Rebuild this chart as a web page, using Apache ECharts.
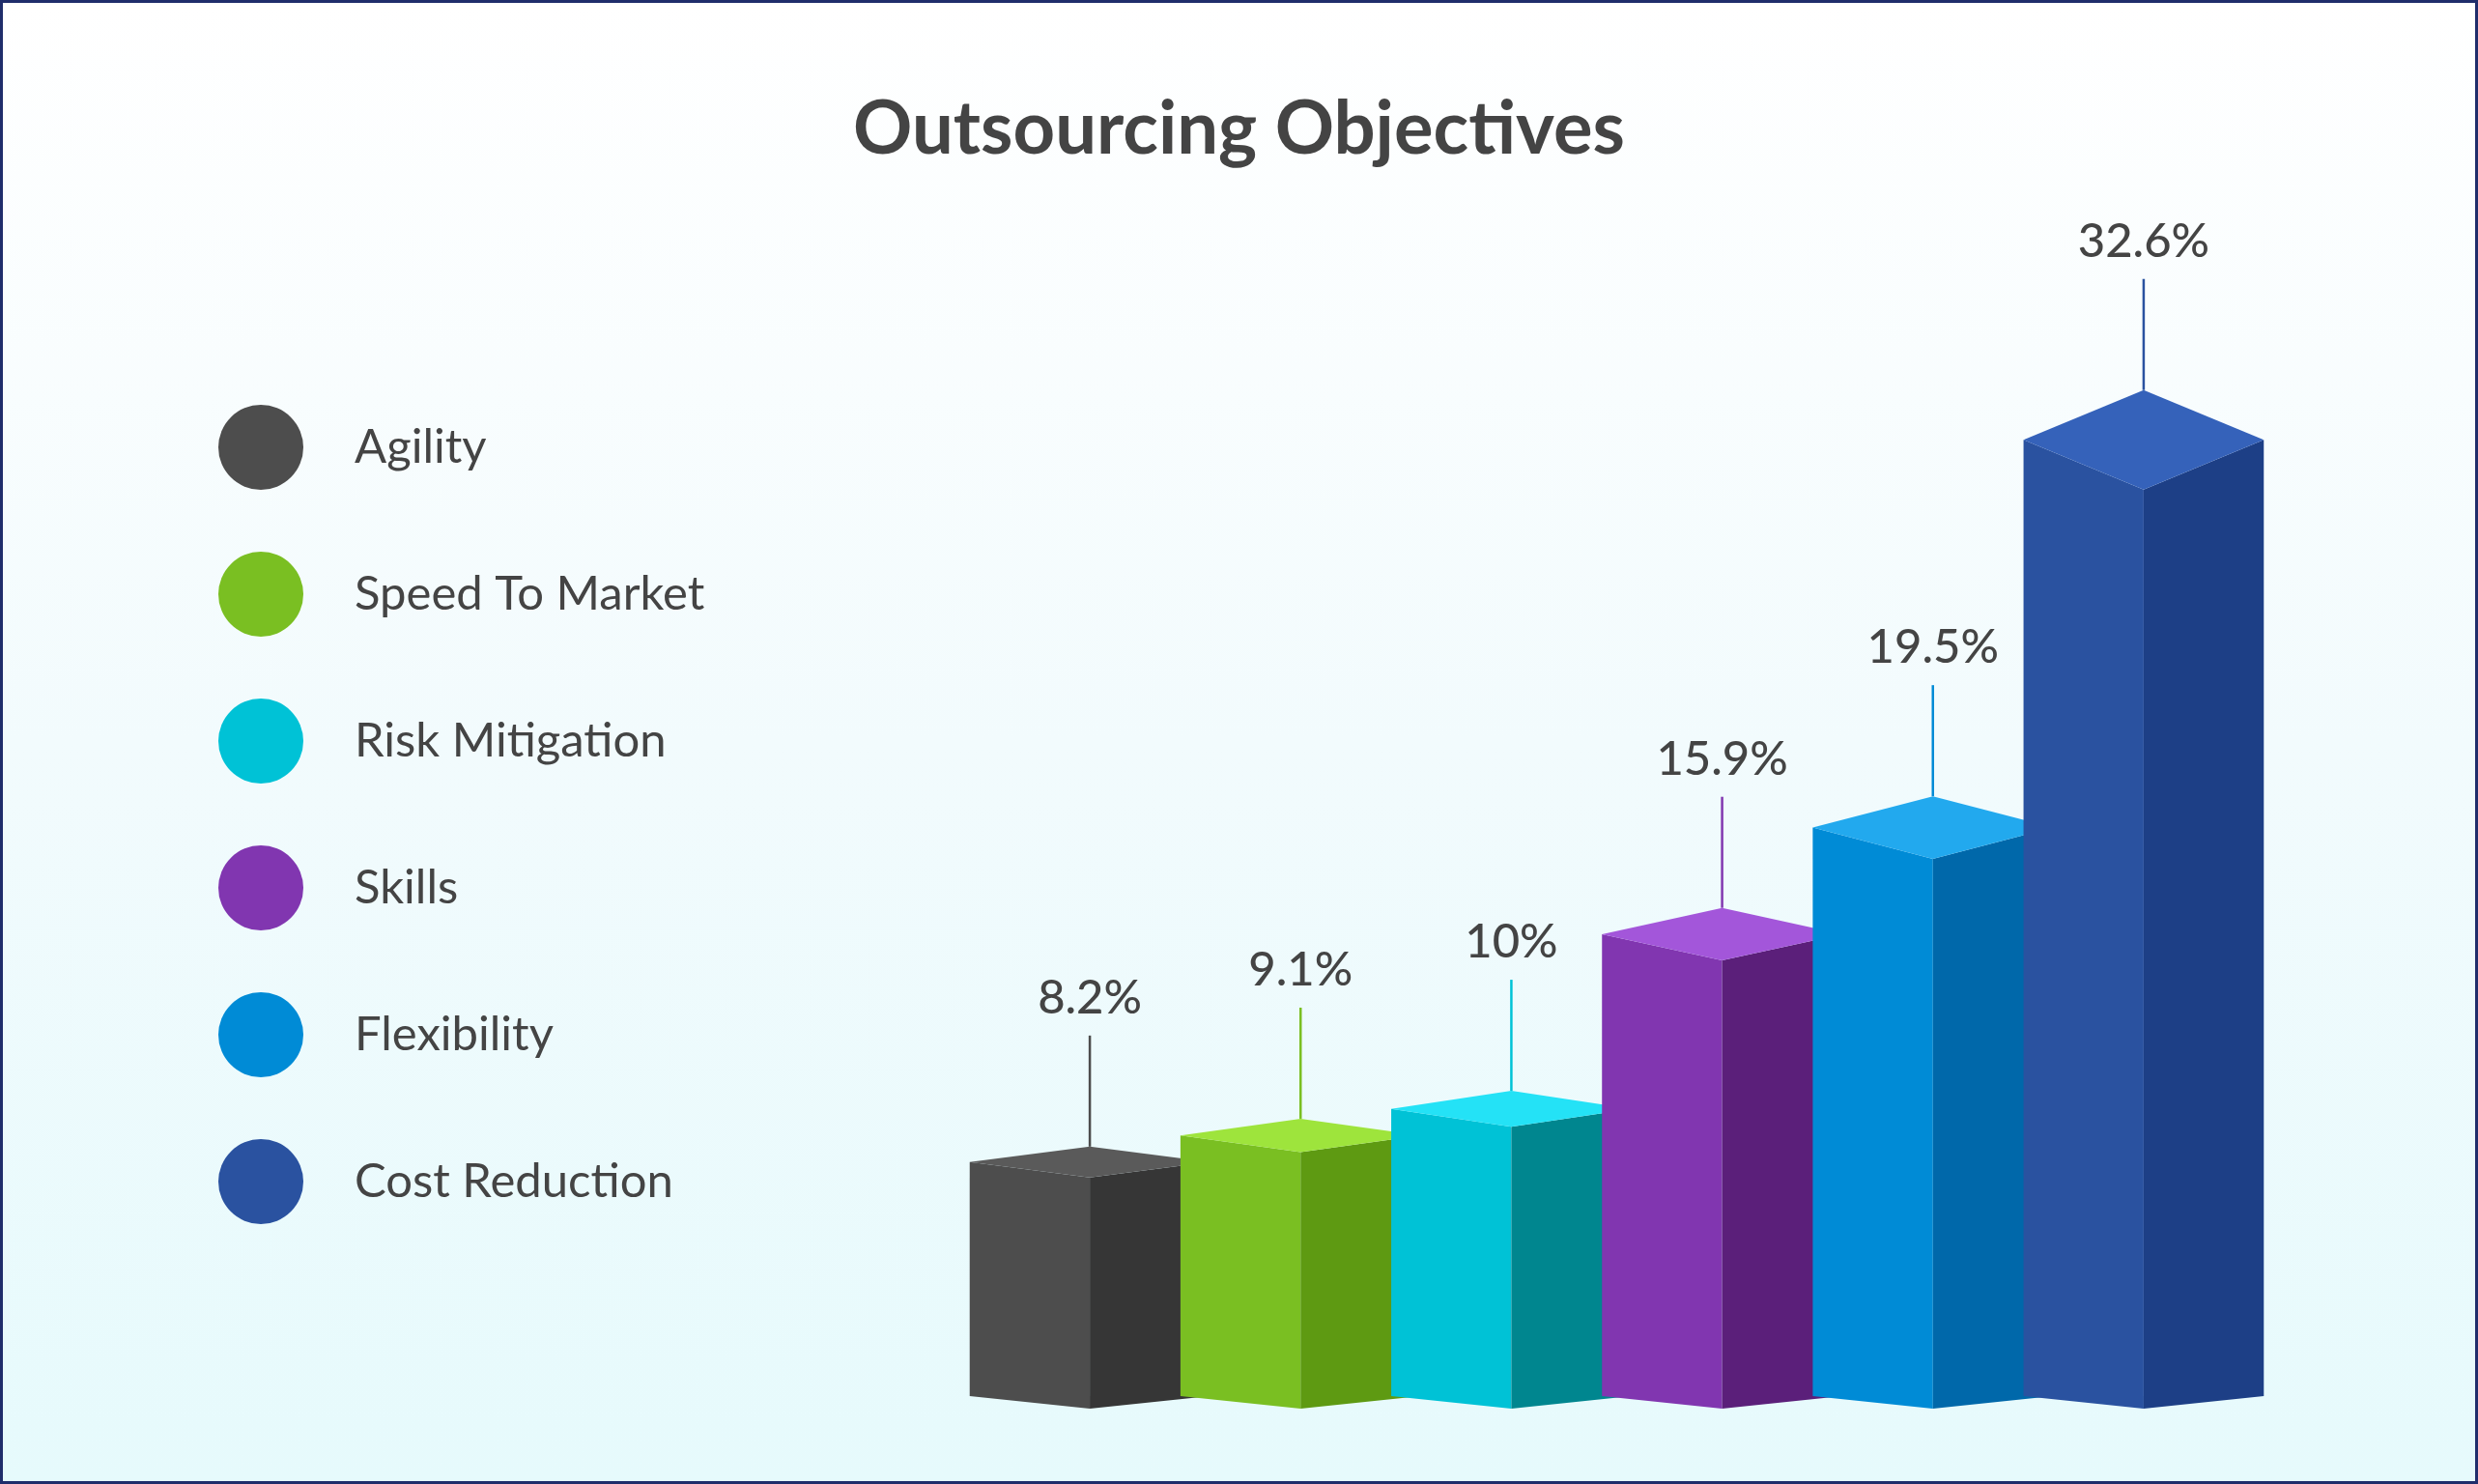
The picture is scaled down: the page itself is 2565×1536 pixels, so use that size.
<!DOCTYPE html>
<html><head><meta charset="utf-8">
<script src="https://cdn.jsdelivr.net/npm/echarts@6/dist/echarts.min.js"></script>
<style>html,body{margin:0;padding:0;}#c{width:2565px;height:1536px;box-sizing:border-box;border:3px solid #1f2d6b;background:linear-gradient(180deg,#ffffff 0%,#f2fbfd 50%,#e6fafc 100%);}</style>
</head><body><div id="c"></div>
<script>
const categories = ['Agility','Speed To Market','Risk Mitigation','Skills','Flexibility','Cost Reduction'];
const values = [8.2, 9.1, 10, 15.9, 19.5, 32.6];
const labels = ['8.2%','9.1%','10%','15.9%','19.5%','32.6%'];
const leftColors = ['#4d4d4d','#7abf22','#00c2d6','#8136b0','#008bd6','#2a52a0'];
const rightColors = ['#363636','#5e9a12','#00868f','#5b1f7a','#0068aa','#1d3f86'];
const topColors = ['#5a5a5a','#9ee43c','#24e2f6','#a356da','#22a9ee','#3562ba'];

const chart = echarts.init(document.getElementById('c'));
const FONT = 'Lato';
const series = categories.map((name, i) => ({
  name, type: 'custom', itemStyle:{color:leftColors[i]},
  data: [[i, values[i]]],
  renderItem(params, api) {
    const idx = api.value(0), v = api.value(1);
    const top = api.coord([idx, v]), base = api.coord([idx, 0]);
    const x = top[0], yT = top[1], yB = base[1];
    const w = api.size([1, 0])[0] * 0.57;
    const d = (yB - yT) * 0.05 + 4;
    const b = 13;
    const lineTop = yT - 2*d - 115;
    return { type: 'group', children: [
      {type:'polygon', shape:{points:[[x-w,yT-d],[x,yT],[x,yB],[x-w,yB-b]]}, style:{fill:leftColors[idx]}},
      {type:'polygon', shape:{points:[[x,yT],[x+w,yT-d],[x+w,yB-b],[x,yB]]}, style:{fill:rightColors[idx]}},
      {type:'polygon', shape:{points:[[x,yT],[x-w,yT-d],[x,yT-2*d],[x+w,yT-d]]}, style:{fill:topColors[idx]}},
      {type:'line', shape:{x1:x,y1:yT-2*d,x2:x,y2:lineTop}, style:{stroke:leftColors[idx],lineWidth:2.5}},
      {type:'text', x:x, y:lineTop-14, style:{text:labels[idx], fill:'#444', font:'500 49px '+FONT, align:'center', verticalAlign:'bottom'}}
    ]};
  }
}));

chart.setOption({
  animation:false,
  title:{text:'Outsourcing Objectives', left:'center', top:88, textStyle:{fontFamily:FONT, fontSize:76, fontWeight:'bold', color:'#444'}},
  legend:{orient:'vertical', left:218, top:411, itemWidth:88, itemHeight:88, itemGap:64, icon:'circle',
    data: categories, textStyle:{fontFamily:FONT, fontSize:49, color:'#444', padding:[0,0,0,48]}},
  grid:{left:1016, right:234, top:463, bottom:75},
  xAxis:{type:'category', data:categories, show:false},
  yAxis:{type:'value', min:0, max:34, show:false},
  series
});
</script></body></html>
